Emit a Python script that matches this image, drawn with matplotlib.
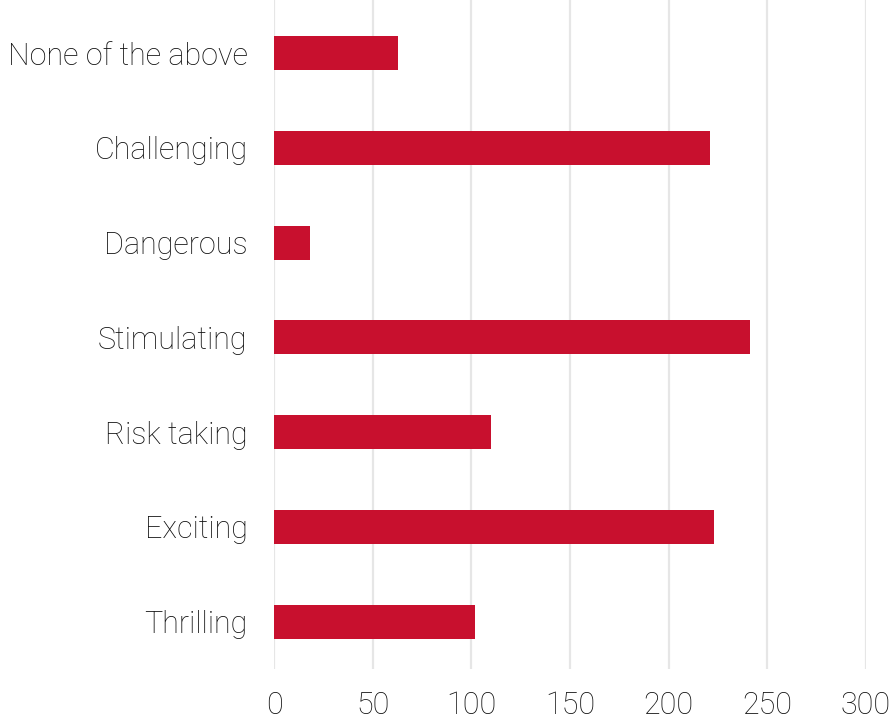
import matplotlib.pyplot as plt

categories = ["Thrilling", "Exciting", "Risk taking", "Stimulating",
              "Dangerous", "Challenging", "None of the above"]
counts = [102, 223, 110, 241, 18, 221, 63]
ticks = [0, 50, 100, 150, 200, 250, 300]

plt.rcParams['font.family'] = ['Roboto', 'DejaVu Sans']

fig = plt.figure(figsize=(8.95, 7.21), dpi=100)
ax = fig.add_axes([274 / 895, 1 - 669 / 721, (866 - 274) / 895, 669 / 721])

ax.barh(range(len(categories)), counts, height=0.36, color='#C8102E', zorder=3)

ax.set_xlim(0, 300)
ax.set_ylim(-0.5, 6.56)
ax.set_xticks(ticks)
ax.set_yticks(range(len(categories)))
ax.set_yticklabels(categories)
ax.grid(axis='x', color='#e6e6e6', lw=1.6, zorder=0)
ax.grid(axis='y', visible=False)
ax.tick_params(length=0, labelsize=22, labelcolor='#111111')
ax.tick_params(axis='x', pad=16)
ax.tick_params(axis='y', pad=19)
for lbl in ax.get_xticklabels() + ax.get_yticklabels():
    lbl.set_fontweight('light')
for s in ax.spines.values():
    s.set_visible(False)

fig.savefig('out.png', dpi=100)
